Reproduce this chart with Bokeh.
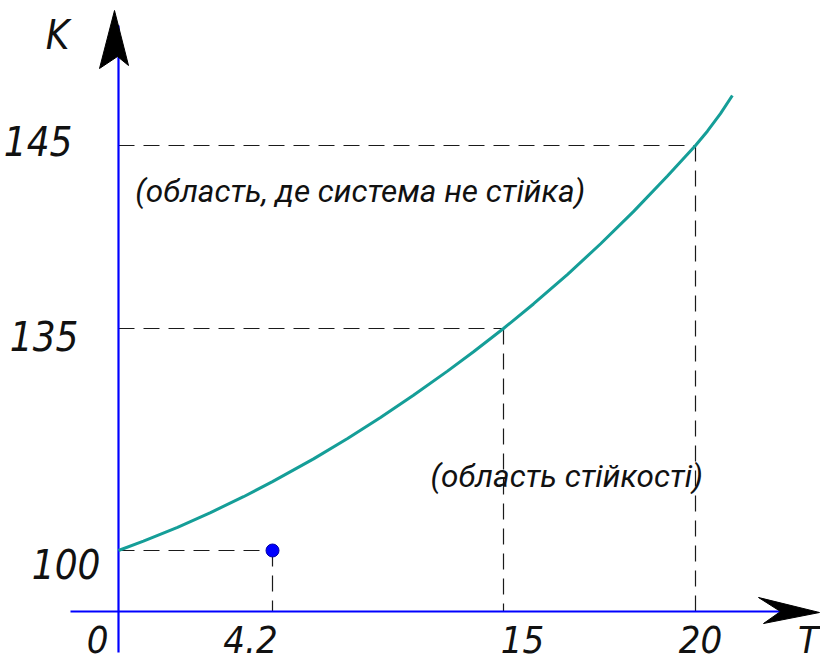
import numpy as np
from bokeh.plotting import figure
from bokeh.models import Range1d
from bokeh.core.properties import value
from bokeh.embed import file_html
from bokeh.resources import INLINE

# ---------------- data ----------------
t_ticks = [0, 4.2, 15, 20]
t_labels = ["0", "4.2", "15", "20"]
k_ticks = [100, 135, 145]
k_labels = ["100", "135", "145"]

curve_T = [0, 0.68, 1.61, 2.51, 3.41, 4.2, 6.12, 7.71, 9.25, 10.79, 12.38,
           13.60, 15.0, 15.78, 16.67, 17.53, 18.39, 19.27, 20.0, 20.31, 20.65, 20.96]
curve_K = [100, 101.48, 103.66, 105.98, 108.48, 110.85, 114.44, 117.66, 120.97,
           124.47, 128.28, 131.34, 135.0, 136.34, 137.96, 139.63, 141.40, 143.33,
           145.0, 145.78, 146.74, 147.73]

guide_T = [4.2, 15, 20]
guide_K = [100, 135, 145]

point_T = [4.2]
point_K = [100]

x_name = "T"
y_name = "K"
region_texts = ["(область, де система не стійка)", "(область стійкості)"]
region_T = [0.46, 11.59]
region_K = [142.49, 111.67]

# ---------------- layout (schematic, non-uniform axes) ----------------
W, H = 820, 661
T_PX = [118, 272, 503, 695]        # x pixel of the T tick marks
K_PX = [550, 328, 145]             # y pixel of the K tick marks
AXIS_X_PX = 118
AXIS_Y_PX = 611


def _interp_ext(v, xp, fp):
    v = np.asarray(v, dtype=float)
    out = np.interp(v, xp, fp)
    lo_s = (fp[1] - fp[0]) / (xp[1] - xp[0])
    hi_s = (fp[-1] - fp[-2]) / (xp[-1] - xp[-2])
    out = np.where(v < xp[0], fp[0] + (v - xp[0]) * lo_s, out)
    out = np.where(v > xp[-1], fp[-1] + (v - xp[-1]) * hi_s, out)
    return out


def sx(t):
    return _interp_ext(t, t_ticks, T_PX)


def sy(k):
    return _interp_ext(k, k_ticks, K_PX)


p = figure(width=W, height=H, output_backend="svg", toolbar_location=None,
           x_axis_type=None, y_axis_type=None,
           x_range=Range1d(0, W), y_range=Range1d(H, 0),
           min_border=0, outline_line_color=None)
p.xgrid.visible = False
p.ygrid.visible = False
p.background_fill_color = "white"

BLUE = "#0000FF"
TEAL = "#159E98"
DASH = "#1a1a1a"

# dashed guide lines
gx = sx(guide_T)
gy = sy(guide_K)
p.segment(x0=[AXIS_X_PX] * len(gx), y0=gy, x1=gx, y1=gy,
          line_color=DASH, line_width=1.2, line_dash="16 9")
p.segment(x0=gx, y0=gy, x1=gx, y1=[AXIS_Y_PX] * len(gx),
          line_color=DASH, line_width=1.2, line_dash="16 9")

# axes
p.line([AXIS_X_PX, AXIS_X_PX], [652, 25], line_color=BLUE, line_width=2.2)
p.line([70, 787], [AXIS_Y_PX, AXIS_Y_PX], line_color=BLUE, line_width=2.2)
# arrowheads
p.patch([114, 99, 117, 128], [10, 68, 56, 65], fill_color="black", line_color="black")
p.patch([819, 758, 780, 763], [612, 597, 611, 623], fill_color="black", line_color="black")

# curve
p.line(sx(curve_T), sy(curve_K), line_color=TEAL, line_width=3)

# point
p.scatter(sx(point_T), sy(point_K), size=13, fill_color=BLUE, line_color="#0000AA")

TICK_FONT = value("DejaVu Sans Condensed")
REGION_FONT = value("Roboto")

# tick labels
tx_off = [-21, -22, 19, 5]
p.text(x=list(sx(t_ticks) + np.array(tx_off)), y=[639] * len(t_ticks), text=t_labels,
       text_font=TICK_FONT, text_font_style="italic", text_font_size="38px",
       text_align="center", text_baseline="middle", text_color="#111111")
kx_right = [100, 78, 72]
ky_off = [13, 7, -5]
p.text(x=kx_right, y=list(sy(k_ticks) + np.array(ky_off)), text=k_labels,
       text_font=TICK_FONT, text_font_style="italic", text_font_size="40px",
       text_align="right", text_baseline="middle", text_color="#111111")

# axis names
p.text(x=[57], y=[34], text=[y_name], text_font=TICK_FONT, text_font_style="italic",
       text_font_size="40px", text_align="center", text_baseline="middle", text_color="#111111")
p.text(x=[808], y=[639], text=[x_name], text_font=TICK_FONT, text_font_style="italic",
       text_font_size="38px", text_align="center", text_baseline="middle", text_color="#111111")

# region texts
p.text(x=list(sx(region_T)), y=list(sy(region_K)), text=region_texts,
       text_font=REGION_FONT, text_font_style="italic", text_font_size="31.5px",
       text_align="left", text_baseline="middle", text_color="#111111")

open("out.html", "w").write(file_html(p, INLINE))
